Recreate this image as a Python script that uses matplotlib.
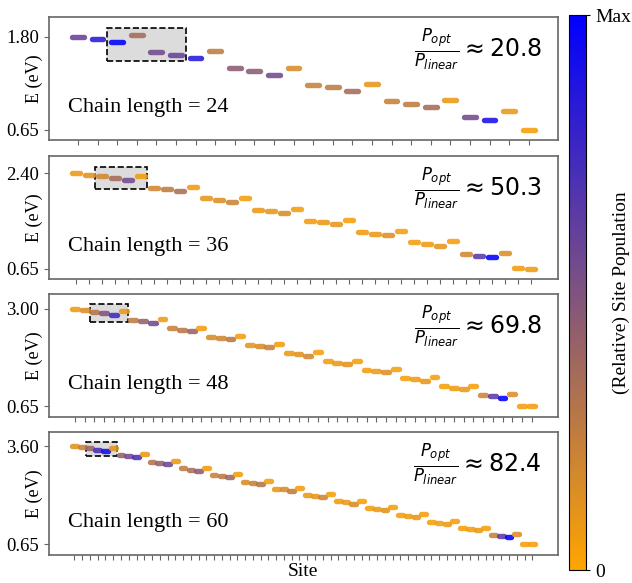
import numpy as np
import matplotlib
matplotlib.use("Agg")
import matplotlib.pyplot as plt
from matplotlib.colors import LinearSegmentedColormap, Normalize
from matplotlib.cm import ScalarMappable
from matplotlib.patches import Rectangle

plt.rcParams['font.family'] = ['Liberation Serif', 'DejaVu Serif']
plt.rcParams['mathtext.fontset'] = 'dejavusans'

# site energies (eV), one list per chain length
E24 = [1.800, 1.773, 1.734, 1.823, 1.615, 1.577, 1.534, 1.623, 1.410, 1.375, 1.333, 1.421,
       1.209, 1.175, 1.128, 1.218, 1.009, 0.970, 0.928, 1.016, 0.804, 0.769, 0.882, 0.650]
E36 = [2.400, 2.377, 2.343, 2.308, 2.274, 2.360, 2.140, 2.105, 2.071, 2.152, 1.944, 1.903,
       1.868, 1.955, 1.736, 1.702, 1.667, 1.754, 1.534, 1.499, 1.464, 1.551, 1.331, 1.296,
       1.262, 1.348, 1.135, 1.100, 1.061, 1.152, 0.927, 0.893, 0.858, 0.945, 0.662, 0.650]
E48 = [3.000, 2.968, 2.938, 2.899, 2.862, 2.954, 2.731, 2.702, 2.663, 2.748, 2.532, 2.502,
       2.463, 2.548, 2.334, 2.302, 2.266, 2.348, 2.128, 2.105, 2.073, 2.151, 1.928, 1.905,
       1.878, 1.951, 1.738, 1.706, 1.669, 1.752, 1.531, 1.499, 1.469, 1.554, 1.332, 1.302,
       1.270, 1.355, 1.132, 1.102, 1.072, 1.155, 0.935, 0.902, 0.865, 0.948, 0.666, 0.650]
E60 = [3.600, 3.572, 3.533, 3.495, 3.466, 3.553, 3.341, 3.302, 3.264, 3.350, 3.129, 3.100,
       3.061, 3.148, 2.936, 2.897, 2.859, 2.955, 2.733, 2.704, 2.666, 2.753, 2.531, 2.502,
       2.463, 2.550, 2.328, 2.299, 2.261, 2.348, 2.145, 2.107, 2.068, 2.165, 1.943, 1.914,
       1.875, 1.962, 1.740, 1.702, 1.673, 1.760, 1.538, 1.500, 1.461, 1.557, 1.336, 1.297,
       1.268, 1.355, 1.143, 1.114, 1.075, 1.153, 0.931, 0.902, 0.863, 0.950, 0.670, 0.650]

# relative site population (0 .. 1 = Max)
pop24 = [0.60, 0.85, 1.00, 0.35, 0.55, 0.60, 0.85, 0.25, 0.45, 0.45, 0.55, 0.15,
         0.22, 0.25, 0.35, 0.10, 0.22, 0.25, 0.35, 0.08, 0.55, 0.90, 0.08, 0.05]
pop36 = [0.08, 0.12, 0.18, 0.35, 0.55, 0.06, 0.18, 0.25, 0.33, 0.06, 0.10, 0.14,
         0.20, 0.05, 0.08, 0.10, 0.16, 0.05, 0.06, 0.08, 0.10, 0.04, 0.06, 0.08,
         0.14, 0.04, 0.05, 0.06, 0.10, 0.04, 0.18, 0.65, 1.00, 0.14, 0.05, 0.06]
pop48 = [0.06, 0.15, 0.30, 0.50, 0.75, 0.08, 0.25, 0.42, 0.55, 0.06, 0.22, 0.28,
         0.40, 0.05, 0.16, 0.20, 0.28, 0.05, 0.10, 0.16, 0.22, 0.05, 0.08, 0.12,
         0.18, 0.04, 0.05, 0.08, 0.12, 0.04, 0.05, 0.07, 0.14, 0.04, 0.04, 0.06,
         0.10, 0.04, 0.04, 0.06, 0.08, 0.04, 0.20, 0.65, 1.00, 0.14, 0.05, 0.05]
pop60 = [0.12, 0.22, 0.40, 0.72, 0.92, 0.12, 0.42, 0.55, 0.72, 0.08, 0.30, 0.42,
         0.58, 0.08, 0.25, 0.33, 0.45, 0.06, 0.22, 0.27, 0.38, 0.05, 0.16, 0.22,
         0.30, 0.05, 0.10, 0.15, 0.25, 0.05, 0.08, 0.10, 0.20, 0.04, 0.06, 0.08,
         0.16, 0.04, 0.05, 0.07, 0.12, 0.04, 0.05, 0.06, 0.10, 0.04, 0.04, 0.05,
         0.08, 0.04, 0.04, 0.05, 0.08, 0.04, 0.22, 0.65, 1.00, 0.14, 0.04, 0.04]

energies = [E24, E36, E48, E60]
pops = [pop24, pop36, pop48, pop60]
chain_lengths = [24, 36, 48, 60]
ratios = [20.8, 50.3, 69.8, 82.4]
ytop_labels = [1.80, 2.40, 3.00, 3.60]
ybottom_label = 0.65

# highlighted region (sites 2-5)
box_x = (1.5, 5.5)
box_top = [1.916, 2.526, 3.115, 3.716]
box_bot = [1.499, 2.111, 2.686, 3.302]

cmap = LinearSegmentedColormap.from_list('pop', ['orange', 'blue'])
norm = Normalize(0, 1)

fig = plt.figure(figsize=(6.32, 5.83), dpi=100)

left, width = 0.0775, 0.805
tops = [0.9703, 0.7319, 0.4957, 0.259]
h = 0.2104
spine_col = '0.4'

for k in range(4):
    ax = fig.add_axes([left, tops[k] - h, width, h])
    E = np.array(energies[k])
    sites = np.arange(len(E))
    lc = ax.hlines(E, sites - 0.3, sites + 0.3, colors=cmap(norm(pops[k])),
                   linewidth=3.9, alpha=0.88, zorder=3)
    lc.set_capstyle('round')
    ax.margins(x=0.05, y=0.1)

    rect = Rectangle((box_x[0], box_bot[k]), box_x[1] - box_x[0], box_top[k] - box_bot[k],
                     facecolor='#dcdcdc', edgecolor='black', linestyle='--',
                     linewidth=1.2, zorder=2)
    ax.add_patch(rect)

    ax.set_xticks(sites)
    ax.set_xticklabels([])
    ax.set_yticks([ytop_labels[k], ybottom_label])
    ax.set_yticklabels(['%.2f' % ytop_labels[k], '%.2f' % ybottom_label], fontsize=13.5)
    ax.tick_params(axis='both', length=3.5, width=0.8, color=spine_col)
    for sp in ax.spines.values():
        sp.set_color(spine_col)
        sp.set_linewidth(1.2)
    ax.set_ylabel('E (eV)', fontsize=13)
    ax.yaxis.set_label_coords(-0.012, 0.5)

    ax.text(0.037, 0.225, 'Chain length = %d' % chain_lengths[k], transform=ax.transAxes,
            fontsize=16, ha='left', va='baseline')
    ax.text(0.968, 0.74, r'$\frac{P_{opt}}{P_{linear}} \approx %.1f$' % ratios[k],
            transform=ax.transAxes, fontsize=17, ha='right', va='center',
            family='DejaVu Sans')
    if k == 3:
        ax.set_xlabel('Site', fontsize=14)
        ax.xaxis.set_label_coords(0.5, -0.065)

cax = fig.add_axes([0.9003, 0.022, 0.027, 0.952])
cb = fig.colorbar(ScalarMappable(norm=norm, cmap=cmap), cax=cax, ticks=[0, 1])
cb.ax.set_yticklabels(['0', 'Max'], fontsize=14)
cb.ax.tick_params(length=3, width=0.8)
cb.outline.set_linewidth(0.8)
cb.set_label('(Relative) Site Population', fontsize=14)
cb.ax.yaxis.set_label_coords(2.55, 0.5)

fig.savefig('out.png', dpi=100)
